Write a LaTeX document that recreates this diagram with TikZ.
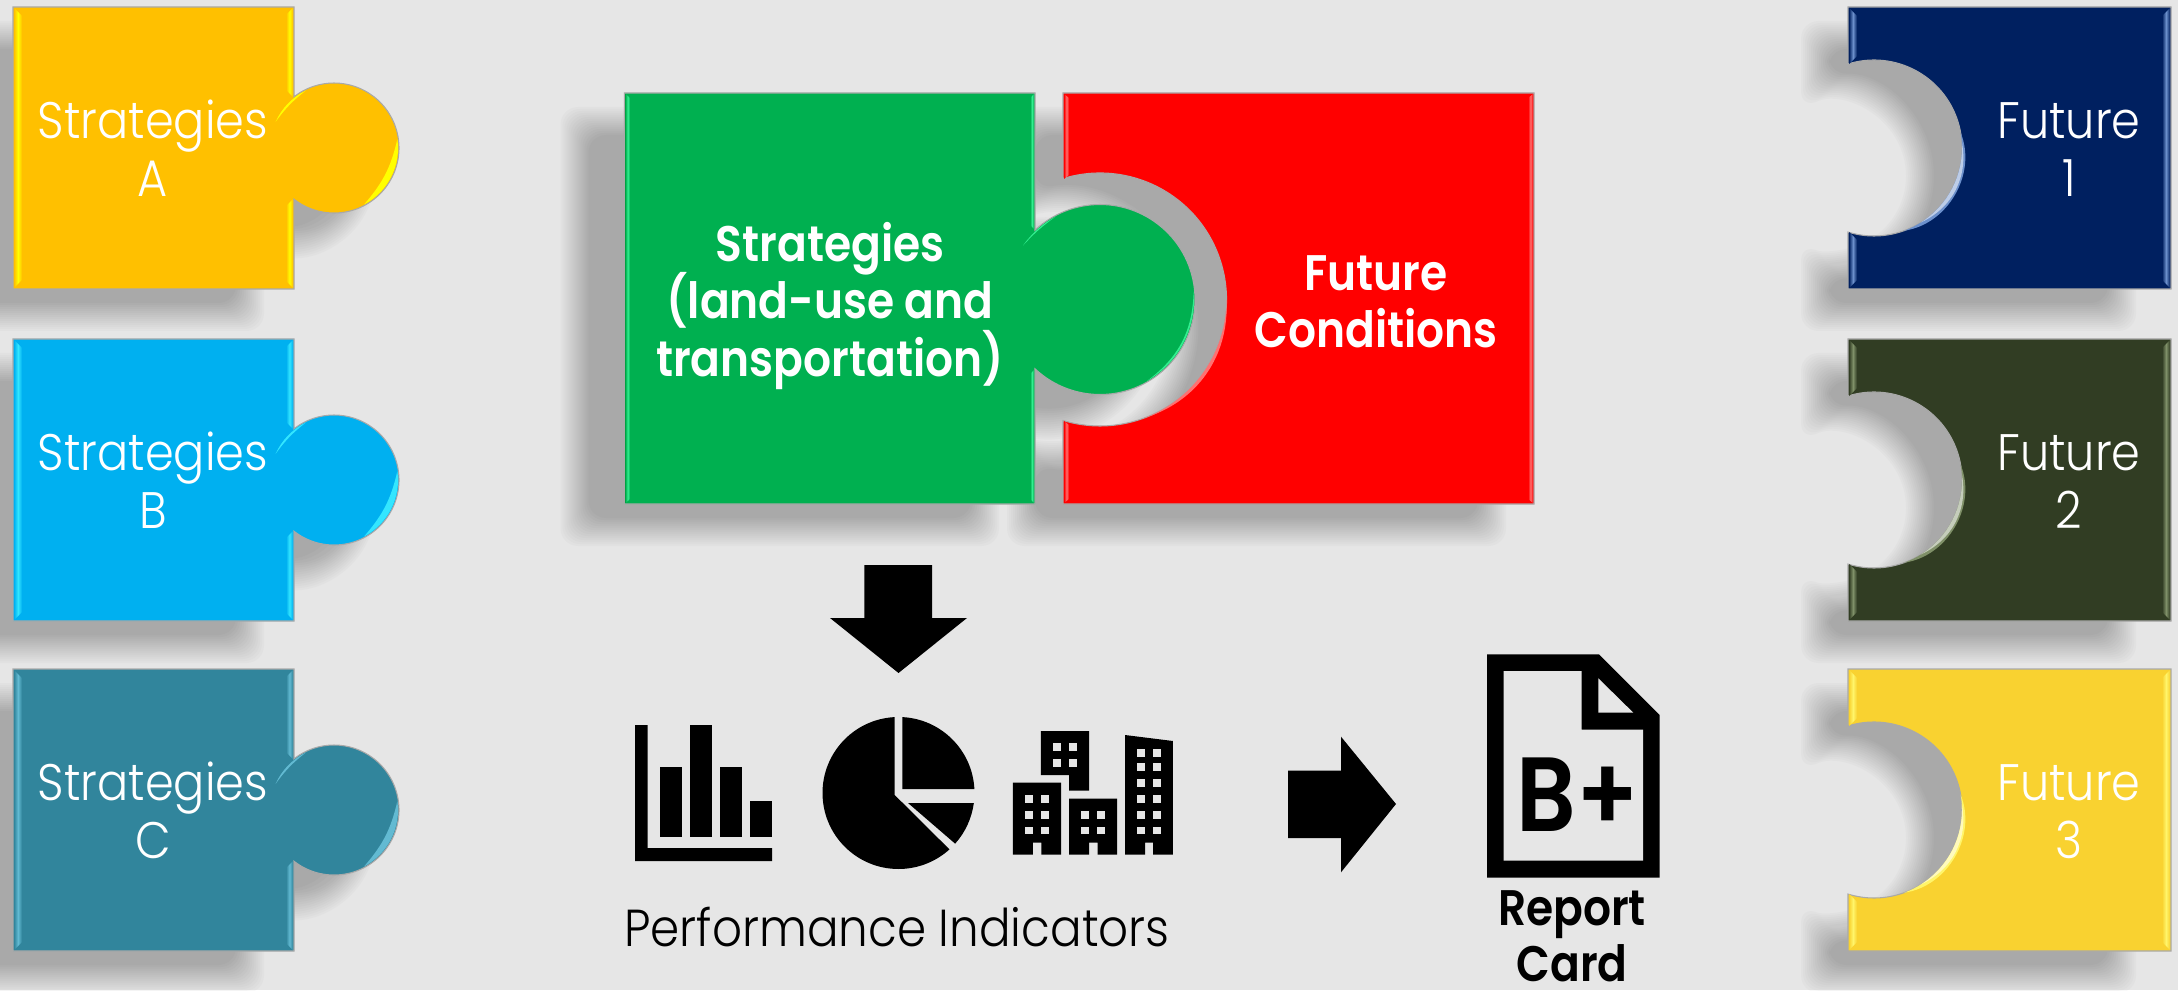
\documentclass[tikz,border=0pt]{standalone}
\usepackage{fontspec}
\usepackage{tikz}
\usetikzlibrary{calc}
\usetikzlibrary{positioning}
\setmainfont{Poppins}
\newfontfamily\lightface[FakeStretch=0.90]{Poppins Light}
\newfontfamily\heavyface[FakeStretch=0.88]{Poppins SemiBold}
\definecolor{paper}{HTML}{E6E6E6}
\definecolor{shadowgray}{HTML}{A6A6A6}
\definecolor{edgegray}{HTML}{A9A9A9}
\definecolor{stratA}{HTML}{FFC000}
\definecolor{stratAlit}{HTML}{FFFF00}
\definecolor{stratB}{HTML}{00B0F0}
\definecolor{stratBlit}{HTML}{33E6FF}
\definecolor{stratC}{HTML}{31859C}
\definecolor{stratClit}{HTML}{62BAD2}
\definecolor{futureA}{HTML}{002060}
\definecolor{futureAlit}{HTML}{6C90CC}
\definecolor{futureB}{HTML}{313D23}
\definecolor{futureBlit}{HTML}{7F9068}
\definecolor{futureC}{HTML}{F9D230}
\definecolor{futureClit}{HTML}{FFF56A}
\definecolor{greenbox}{HTML}{00B050}
\definecolor{greenlit}{HTML}{33EE90}
\definecolor{redbox}{HTML}{FF0000}
\definecolor{redlit}{HTML}{FF7070}
\tikzset{
  softshadow/.style = {fill=shadowgray, draw=none, rounded corners=5pt},
  piece/.style = {draw=edgegray, line width=.3pt},
  smalltext/.style = {text=white, align=center, font=\lightface\fontsize{14.6}{16.5}\selectfont},
  bigtext/.style = {text=white, align=center, font=\heavyface\fontsize{14.2}{16.3}\selectfont, execute at begin node={\lineskiplimit=-20pt\relax}},
  icon/.style = {fill=black, draw=none},
  hole/.style = {fill=paper, draw=none}
}
% box with a round knob on its right side
\newcommand{\plugshape}[8]{
  \pgfmathsetmacro{\sa}{acos(max(-1,((#4)-(#6))/(#8)))}
  \path[#1] ({#2},{#3}) -- ({#4},{#3}) -- ({#4},{(#7)-(#8)*sin(\sa)}) arc [start angle=-\sa, end angle=\sa, radius={(#8)}] -- ({#4},{#5}) -- ({#2},{#5}) -- cycle;
}
% box with a round bite out of its left side
\newcommand{\socketshape}[8]{
  \pgfmathsetmacro{\sa}{acos(max(-1,((#2)-(#6))/(#8)))}
  \path[#1] ({#2},{#3}) -- ({#4},{#3}) -- ({#4},{#5}) -- ({#2},{#5}) -- ({#2},{(#7)+(#8)*sin(\sa)}) arc [start angle=\sa, end angle=-\sa, radius={(#8)}] -- cycle;
}
\newcommand{\softplug}[7]{
  \foreach \shrink [count=\k] in {-14,-12,...,14}{
    \pgfmathsetmacro{\op}{1/(17-\k)}
    \plugshape{softshadow, opacity=\op}{#1+\shrink}{#2+\shrink}{#3-\shrink}{#4-\shrink}{#5}{#6}{#7-\shrink}
  }
}
\newcommand{\softsocket}[7]{
  \foreach \shrink [count=\k] in {-14,-12,...,14}{
    \pgfmathsetmacro{\op}{1/(17-\k)}
    \socketshape{softshadow, opacity=\op}{#1+\shrink}{#2+\shrink}{#3-\shrink}{#4-\shrink}{#5}{#6}{#7+\shrink}
  }
}
\newcommand{\bevelstrip}[7]{
  \shade[left color=#6, right color=#6, middle color=#7] ({#1},{#3}) -- ({#2},{(#3)+(#5)}) -- ({#2},{(#4)-(#5)}) -- ({#1},{#4}) -- cycle;
}
\newcommand{\crescent}[7]{
  \fill[#7] (#1,#2) ++(#4:#3) coordinate (cstart) arc [start angle=#4, end angle=#5, radius=#3] to [bend right=#6] (cstart);
}
\begin{document}
\begin{tikzpicture}[x=.01cm, y=.01cm]
\useasboundingbox (0,0) rectangle (2178,990);
\fill[paper] (0,0) rectangle (2178,990);

% shadows go under everything
\foreach \ypos in {701,369,39}{
  \softplug{-31}{\ypos-28}{250}{\ypos+254}{296}{\ypos+113}{65}
  \softsocket{1815}{\ypos-28}{2122}{\ypos+254}{1832}{\ypos+113}{88}
}
\softplug{574.5}{458}{985}{869}{1050}{662.5}{95}
\softsocket{1021}{458}{1492}{869}{1058}{662.5}{126.5}

% left column
\foreach \ypos/\fcol/\lcol in {701/stratA/stratAlit, 369/stratB/stratBlit, 39/stratC/stratClit}{
  \plugshape{piece, fill=\fcol}{13}{\ypos}{294}{\ypos+282}{334}{\ypos+141}{65}
  \bevelstrip{14}{22}{\ypos+1}{\ypos+281}{8}{\fcol}{\lcol}
  \bevelstrip{293}{286}{\ypos+1}{\ypos+90}{7}{\fcol}{\lcol}
  \bevelstrip{293}{286}{\ypos+192}{\ypos+281}{7}{\fcol}{\lcol}
  \crescent{334}{\ypos+141}{64}{8}{-62}{14}{\lcol}
  \crescent{334}{\ypos+141}{64}{156}{116}{8}{\lcol}
}
% right column
\foreach \ypos/\fcol/\lcol in {701/futureA/futureAlit, 369/futureB/futureBlit, 39/futureC/futureClit}{
  \socketshape{piece, fill=\fcol}{1848}{\ypos}{2171}{\ypos+282}{1874}{\ypos+141}{88}
  \bevelstrip{1849}{1857}{\ypos+1}{\ypos+57}{8}{\fcol}{\lcol}
  \bevelstrip{1849}{1857}{\ypos+225}{\ypos+281}{8}{\fcol}{\lcol}
  \bevelstrip{2170}{2162}{\ypos+1}{\ypos+281}{8}{\fcol}{\lcol}
  \crescent{1874}{\ypos+141}{88}{10}{-70}{52}{\lcol}
  \crescent{1874}{\ypos+141}{88}{4}{-58}{38}{\lcol!45!white}
}
% middle pair
\socketshape{piece, fill=redbox}{1063}{486}{1534}{897}{1100}{690.5}{126.5}
\plugshape{piece, fill=greenbox}{624.5}{486}{1035}{897}{1100}{690.5}{95}
\bevelstrip{625.5}{630}{487}{896}{4}{greenbox}{greenlit}
\bevelstrip{1034}{1030}{487}{620}{4}{greenbox}{greenlit}
\bevelstrip{1034}{1030}{761}{896}{4}{greenbox}{greenlit}
\bevelstrip{1064}{1069}{487}{569}{4}{redbox}{redlit}
\bevelstrip{1064}{1069}{811}{896}{4}{redbox}{redlit}
\bevelstrip{1533}{1528}{487}{896}{4}{redbox}{redlit}
\crescent{1100}{690.5}{94}{5}{-60}{26}{greenlit}
\crescent{1100}{690.5}{94}{145}{118}{6}{greenlit}
\crescent{1100}{690.5}{126.5}{0}{-70}{38}{redlit}

% labels
\node[smalltext] (labelA) at (153,842) {Strategies\\A};
\node[smalltext] (labelB) at (153,510) {Strategies\\B};
\node[smalltext] (labelC) at (153,180) {Strategies\\C};
\node[smalltext] (labelone) at (2069,840) {Future\\1};
\node[smalltext] (labeltwo) at (2069,508) {Future\\2};
\node[smalltext] (labelthree) at (2069,178) {Future\\3};
\node[bigtext] (labelstrat) at (830,684) {Strategies\\(land-use and\\transportation)};
\node[bigtext] (labelfuture) at (1376,688) {Future\\Conditions};

% arrows
\fill[icon] (864.4,425) -- (932,425) -- (932,372) -- (967,372) -- (898.5,317) -- (830,372) -- (864.4,372) -- cycle;
\fill[icon] (1288,219.3) -- (1341,219.3) -- (1341,253.3) -- (1396,186) -- (1341,117.7) -- (1341,152) -- (1288,152) -- cycle;

% bar chart
\fill[icon] (635,265) -- (647.5,265) -- (647.5,142) -- (772,142) -- (772,129) -- (635,129) -- cycle;
\foreach \xbar/\ytop in {660/223, 690/265, 720/223, 750/189}{
  \fill[icon] (\xbar,153) rectangle (\xbar+22,\ytop);
}

% pie
\coordinate (piemid) at (898.5,197);
\fill[icon] (894.7,195) -- ($(piemid)+(92.9:76)$) arc [start angle=92.9, end angle=312.1, radius=76] -- cycle;
\fill[icon] (902.3,201) -- ($(piemid)+(87.1:76)$) arc [start angle=87.1, end angle=3, radius=76] -- cycle;
\fill[icon] (908,187) -- ($(piemid)+(-7.6:76)$) arc [start angle=-7.6, end angle=-41.8, radius=76] -- cycle;

% buildings
\fill[icon] (1040.9,259) -- (1089,259) -- (1089,199.3) -- (1069.2,199.3) -- (1069.2,215) -- (1040.9,215) -- cycle;
\fill[icon] (1012.9,207.3) -- (1061.1,207.3) -- (1061.1,135.3) -- (1041.3,135.3) -- (1041.3,147.3) -- (1032.8,147.3) -- (1032.8,135.3) -- (1012.9,135.3) -- cycle;
\fill[icon] (1069.2,191.3) -- (1117,191.3) -- (1117,135.3) -- (1097.5,135.3) -- (1097.5,147.3) -- (1089,147.3) -- (1089,135.3) -- (1069.2,135.3) -- cycle;
\fill[icon] (1125,255) -- (1172.9,249) -- (1172.9,135.3) -- (1153,135.3) -- (1153,147.3) -- (1145,147.3) -- (1145,135.3) -- (1125,135.3) -- cycle;
\foreach \xwin in {1053.1,1069.2}{
  \foreach \ywin in {239,223}{ \fill[hole] (\xwin,\ywin) rectangle (\xwin+8,\ywin+8.3); }
}
\foreach \xwin in {1025.2,1040.9}{
  \foreach \ywin in {187.3,171.3,155.7}{ \fill[hole] (\xwin,\ywin) rectangle (\xwin+8,\ywin+7.7); }
}
\foreach \xwin in {1081,1097.1}{
  \foreach \ywin in {171.3,155.7}{ \fill[hole] (\xwin,\ywin) rectangle (\xwin+8,\ywin+7.7); }
}
\foreach \xwin in {1136.9,1153}{
  \foreach \ywin in {233,219.3,203.3,187.3,171.3,155.7}{ \fill[hole] (\xwin,\ywin) rectangle (\xwin+8,\ywin+7.7); }
}

\node[font=\lightface\fontsize{14.8}{16.5}\selectfont, text=black] (labelperf) at (897,63) {Performance Indicators};

% report card
\fill[icon] (1487,335.7) -- (1599,335.7) -- (1659.7,275) -- (1659.7,112.3) -- (1487,112.3) -- cycle;
\fill[hole] (1503.7,319) -- (1581.7,319) -- (1581.7,260.3) -- (1643,260.3) -- (1643,129.3) -- (1503.7,129.3) -- cycle;
\fill[hole] (1598.3,311.7) -- (1633.3,277.3) -- (1598.3,277.3) -- cycle;
\node[font=\heavyface\fontsize{30}{32}\selectfont, text=black] (labelgrade) at (1578,195) {B+};
\node[font=\heavyface\fontsize{14.2}{16}\selectfont, text=black, align=center, inner sep=0pt] (labelcard) at (1572,54) {Report\\Card};
\end{tikzpicture}
\end{document}
